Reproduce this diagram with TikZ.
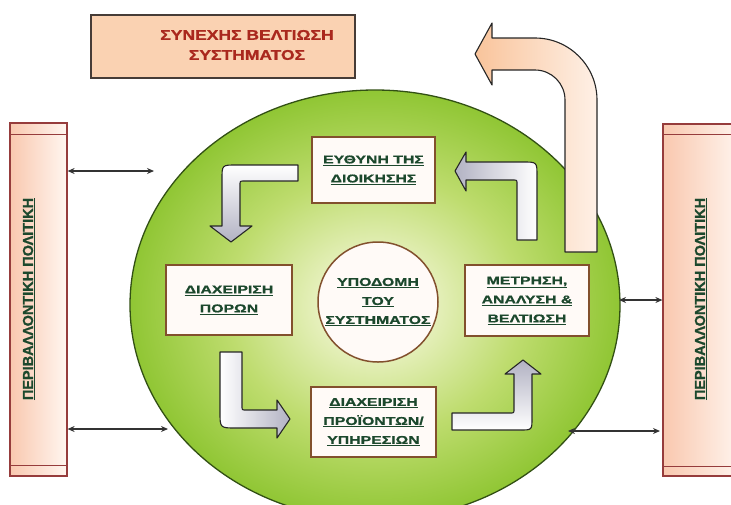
\documentclass[tikz,border=0pt]{standalone}
\usepackage{fontspec}
\setmainfont{Liberation Sans}
\newfontfamily\lblfont{Liberation Sans}[UprightFont={* Bold}, BoldFont={* Bold}, FakeStretch=1.4, FakeBold=1.2]
\newfontfamily\ttlfont{Liberation Sans}[UprightFont={* Bold}, BoldFont={* Bold}, FakeStretch=1.25, FakeBold=1]
\newfontfamily\sidefont{Liberation Sans}[UprightFont={* Bold}, BoldFont={* Bold}, FakeBold=1.2]
\usetikzlibrary{shapes.geometric,arrows.meta}

\definecolor{coreout}{RGB}{144,198,52}
\definecolor{coremid}{RGB}{190,220,110}
\definecolor{corein}{RGB}{234,242,196}
\definecolor{coreedge}{RGB}{50,80,20}
\definecolor{boxedge}{RGB}{130,80,45}
\definecolor{boxfill}{RGB}{255,250,247}
\definecolor{lbltext}{RGB}{28,72,45}
\definecolor{ttltext}{RGB}{170,40,30}
\definecolor{ttlfill}{RGB}{250,210,178}
\definecolor{ttledge}{RGB}{70,60,55}
\definecolor{barpink}{RGB}{249,200,175}
\definecolor{barlight}{RGB}{255,246,240}
\definecolor{baredge}{RGB}{150,60,60}
\definecolor{shaftgray}{RGB}{178,178,195}
\definecolor{peach}{RGB}{249,196,155}
\definecolor{peachlight}{RGB}{254,240,230}

\pgfdeclareradialshading{coreglow}{\pgfpoint{0bp}{0bp}}{%
  color(0bp)=(corein); color(5bp)=(corein); color(15bp)=(coremid);
  color(25bp)=(coreout); color(50bp)=(coreout)}

\tikzset{
  stage/.style={draw=boxedge, line width=1.5pt, fill=boxfill, align=center,
    inner sep=0pt, text=lbltext,
    font=\lblfont\fontsize{11.3}{19}\selectfont},
  blockarrow/.style={draw=black!85, line width=1.1pt, line join=round},
  sidebar/.style={draw=baredge, line width=1.2pt, inner sep=0pt,
    left color=barpink, right color=barlight},
  sidetext/.style={rotate=90, text=lbltext, inner sep=0pt,
    font=\sidefont\fontsize{14.5}{16}\selectfont},
  dblarrow/.style={{Stealth[length=7pt,width=6pt]}-{Stealth[length=7pt,width=6pt]},
    line width=1.1pt, draw=black!80},
}

\begin{document}
\begin{tikzpicture}[x=1pt,y=-1pt]
\useasboundingbox (0,0) rectangle (731,504);
\begin{scope}
\clip (0,0) rectangle (731,504);

% the system as a whole
\node[ellipse, draw=coreedge, line width=1.3pt, shading=coreglow,
      minimum width=490pt, minimum height=430pt, inner sep=0pt] (core) at (375,305) {};

% continual improvement loop leaving the system
\draw[blockarrow, left color=peach, right color=peachlight]
  (565,252) -- (597,252) -- (597,100)
  .. controls (597,65.8) and (569.2,38) .. (535,38)
  -- (492,38) -- (492,23) -- (475,54) -- (492,85) -- (492,70) -- (535,70)
  .. controls (551.6,70) and (565,83.4) .. (565,100) -- cycle;

% the four stages and the infrastructure
\node[stage, minimum width=123pt, minimum height=66pt] (resp) at (373.5,170)
  {\underline{ΕΥΘΥΝΗ ΤΗΣ}\\\underline{ΔΙΟΙΚΗΣΗΣ}};
\node[stage, minimum width=126pt, minimum height=70pt] (res) at (229,300)
  {\underline{ΔΙΑΧΕΙΡΙΣΗ}\\\underline{ΠΟΡΩΝ}};
\node[stage, minimum width=124pt, minimum height=71pt] (meas) at (527,300.5)
  {\underline{ΜΕΤΡΗΣΗ,}\\\underline{ΑΝΑΛΥΣΗ \&}\\\underline{ΒΕΛΤΙΩΣΗ}};
\node[stage, minimum width=125pt, minimum height=70pt] (prod) at (373.5,422)
  {\underline{ΔΙΑΧΕΙΡΙΣΗ}\\\underline{ΠΡΟΪΟΝΤΩΝ/}\\\underline{ΥΠΗΡΕΣΙΩΝ}};
\node[stage, circle, minimum size=120pt] (infra) at (378,302)
  {\underline{ΥΠΟΔΟΜΗ}\\\underline{ΤΟΥ}\\\underline{ΣΥΣΤΗΜΑΤΟΣ}};

% cycle arrows between the stages
\draw[blockarrow, top color=white, bottom color=shaftgray]
  (298,165) -- (236,165) .. controls (222,165) .. (222,179)
  -- (222,226) -- (210,226) -- (231,242) -- (252,226) -- (240,226)
  -- (240,185) .. controls (240,181) .. (244,181) -- (298,181) -- cycle;
\draw[blockarrow, left color=white, right color=shaftgray]
  (220,352) -- (242,352) -- (242,406) .. controls (242,410) .. (246,410)
  -- (277,410) -- (277,400) -- (290,419) -- (277,438) -- (277,428)
  -- (236,428) .. controls (220,428) .. (220,412) -- cycle;
\draw[blockarrow, bottom color=white, top color=shaftgray]
  (452,413) -- (510,413) .. controls (514,413) .. (514,409)
  -- (514,374) -- (505,374) -- (523,360) -- (541,374) -- (532,374)
  -- (532,418) .. controls (532,430) .. (520,430) -- (452,430) -- cycle;
\draw[blockarrow, left color=shaftgray, right color=white]
  (517,240) -- (537,240) -- (537,176) .. controls (537,162) .. (523,162)
  -- (466,162) -- (466,152) -- (455,171) -- (466,191) -- (466,180)
  -- (513,180) .. controls (517,180) .. (517,184) -- cycle;

% environmental policy on both sides
\node[sidebar, minimum width=57pt, minimum height=353pt] (lbar) at (38.5,299.5) {};
\draw[draw=baredge, line width=1.2pt]
  ([yshift=-12pt]lbar.north west) -- ([yshift=-12pt]lbar.north east)
  ([yshift=11pt]lbar.south west) -- ([yshift=11pt]lbar.south east);
\node[sidetext] (ltext) at (29,299) {\underline{ΠΕΡΙΒΑΛΛΟΝΤΙΚΗ ΠΟΛΙΤΙΚΗ}};

\node[sidebar, minimum width=80pt, minimum height=352pt] (rbar) at (703,300) {};
\draw[draw=baredge, line width=1.2pt]
  ([yshift=-11pt]rbar.north west) -- ([yshift=-11pt]rbar.north east)
  ([yshift=10pt]rbar.south west) -- ([yshift=10pt]rbar.south east);
\node[sidetext] (rtext) at (701,299) {\underline{ΠΕΡΙΒΑΛΛΟΝΤΙΚΗ ΠΟΛΙΤΙΚΗ}};

% exchanges between the policy and the system
\coordinate (lin1) at (154,171);
\coordinate (lin2) at (168,429);
\coordinate (rin1) at (619,300);
\coordinate (rin2) at (568,431);
\coordinate (rout2) at (660,431);
\draw[dblarrow] (lbar.east |- lin1) -- (lin1);
\draw[dblarrow] (lbar.east |- lin2) -- (lin2);
\draw[dblarrow] (rin1) -- (rbar.west |- rin1);
\draw[dblarrow] (rin2) -- (rout2);

% continual improvement heading
\node[draw=ttledge, line width=1.3pt, fill=ttlfill, minimum width=264pt,
      minimum height=63pt, inner sep=0pt] (goal) at (223,46.5) {};
\node[text=ttltext, align=center, inner sep=0pt,
      font=\ttlfont\fontsize{14}{20}\selectfont] (goaltext) at (247,45)
  {ΣΥΝΕΧΗΣ ΒΕΛΤΙΩΣΗ\\ΣΥΣΤΗΜΑΤΟΣ};
\end{scope}
\end{tikzpicture}
\end{document}
